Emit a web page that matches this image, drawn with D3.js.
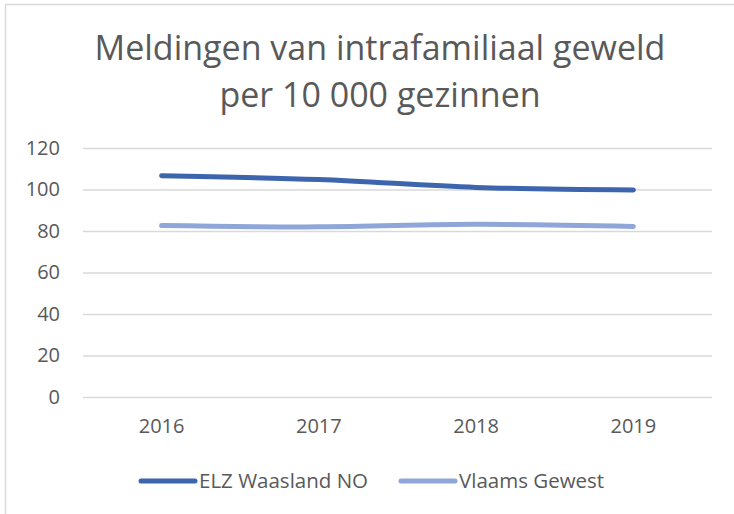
<!DOCTYPE html>
<meta charset="utf-8">
<style>
	body { margin: 0; background: #fff; }
	svg { display: block; font-family: "Open Sans", "Noto Sans", sans-serif; }
</style>
<svg width="734" height="514"></svg>
<script src="https://d3js.org/d3.v7.min.js"></script>
<script>
	var years = ["2016", "2017", "2018", "2019"];
	var elzValues = [106.6, 104.8, 101.0, 99.8];
	var vlaamsValues = [82.6, 82.0, 83.2, 82.2];
	var yTicks = [0, 20, 40, 60, 80, 100, 120];
	var seriesNames = ["ELZ Waasland NO", "Vlaams Gewest"];
	var titleLines = ["Meldingen van intrafamiliaal geweld", "per 10 000 gezinnen"];

	var svg = d3.select("svg"),
		width = +svg.attr("width"),
		height = +svg.attr("height");

	var textColor = "#595959",
		gridColor = "#d9d9d9",
		colors = ["#3d65ae", "#8fa7d8"];

	// chart frame
	svg.append("rect").attr("x", 5.5).attr("y", 4.5).attr("width", width).attr("height", height)
		.attr("fill", "#fff").attr("stroke", gridColor).attr("stroke-width", 1.5);

	var margin = {left: 83, right: 22, top: 148, bottom: 117};

	var x = d3.scaleBand().domain(years).range([margin.left, width - margin.right]);
	var y = d3.scaleLinear().domain([0, 120]).range([height - margin.bottom, margin.top]);

	// title
	svg.append("text").attr("x", 380).attr("y", 60).attr("text-anchor", "middle")
		.attr("fill", textColor).style("font-size", "34px")
		.selectAll("tspan").data(titleLines).enter().append("tspan")
		.attr("x", 380).attr("dy", function(d, i){ return i ? 47 : 0; })
		.text(function(d){ return d; });

	// gridlines + y labels
	var yAxis = d3.axisLeft(y).tickValues(yTicks).tickSize(-(width - margin.right - margin.left)).tickPadding(23);
	var gy = svg.append("g").attr("transform", "translate(" + margin.left + ",0)").call(yAxis)
		.attr("font-family", null).attr("font-size", null);
	gy.select(".domain").remove();
	gy.selectAll(".tick line").attr("stroke", gridColor).attr("stroke-width", 1.3);
	gy.selectAll(".tick text").attr("fill", textColor).style("font-size", "20px");

	// x labels
	var xAxis = d3.axisBottom(x).tickSize(0).tickPadding(22);
	var gx = svg.append("g").attr("transform", "translate(0," + y(0) + ")").call(xAxis)
		.attr("font-family", null).attr("font-size", null);
	gx.select(".domain").remove();
	gx.selectAll(".tick text").attr("fill", textColor).style("font-size", "20px");

	// lines
	var line = d3.line()
		.x(function(d, i){ return x(years[i]) + x.bandwidth() / 2; })
		.y(function(d){ return y(d); })
		.curve(d3.curveCatmullRom.alpha(0.5));

	[elzValues, vlaamsValues].forEach(function(vals, k){
		svg.append("path").attr("d", line(vals)).attr("fill", "none")
			.attr("stroke", colors[k]).attr("stroke-width", 5).attr("stroke-linecap", "round");
	});

	// legend
	var legendX = [141, 401];
	var lg = svg.append("g").selectAll("g").data(seriesNames).enter().append("g")
		.attr("transform", function(d, i){ return "translate(" + legendX[i] + ",481)"; });
	lg.append("line").attr("x1", 0).attr("x2", 54).attr("y1", 0).attr("y2", 0)
		.attr("stroke", function(d, i){ return colors[i]; }).attr("stroke-width", 5).attr("stroke-linecap", "round");
	lg.append("text").attr("x", 58).attr("dy", "0.36em").attr("fill", textColor).style("font-size", "20.5px")
		.text(function(d){ return d; });
</script>
